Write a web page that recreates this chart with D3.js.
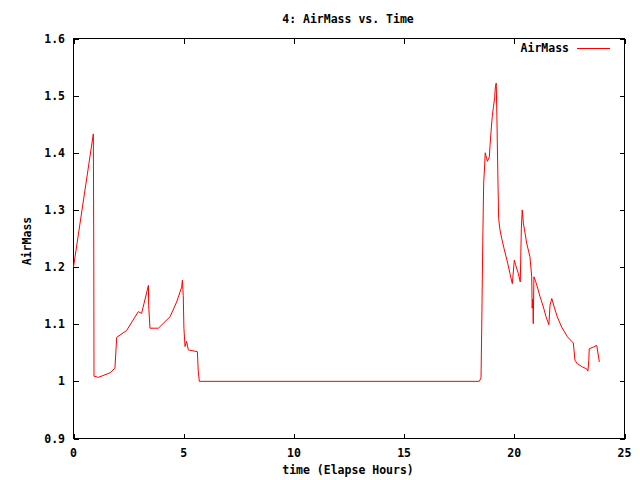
<!DOCTYPE html>
<html><head><meta charset="utf-8">
<script src="https://cdn.jsdelivr.net/npm/d3@7"></script>
<style>body{margin:0;background:#fff}svg{display:block}text{font-family:"DejaVu Sans Mono",monospace;font-size:11.5px;fill:#000}</style>
</head><body><svg id="c" width="640" height="480"></svg>
<script>
const title = "4: AirMass vs. Time";
const xLabel = "time (Elapse Hours)";
const yLabel = "AirMass";
const seriesName = "AirMass";
const xTicks = [0,5,10,15,20,25];
const yTicks = [0.9,1,1.1,1.2,1.3,1.4,1.5,1.6];
const times = [0,0.9,0.92,0.93,1.13,1.66,1.88,1.96,2.41,2.94,3.09,3.4,3.41,3.47,3.85,4.38,4.68,4.91,4.94,4.98,5.01,5.06,5.13,5.21,5.62,5.66,5.71,18.41,18.49,18.52,18.57,18.61,18.66,18.68,18.78,18.87,18.9,18.94,19.0,19.05,19.11,19.14,19.18,19.21,19.26,19.29,19.35,19.43,19.55,19.7,19.8,19.91,20.0,20.06,20.18,20.27,20.32,20.36,20.41,20.49,20.56,20.71,20.79,20.81,20.84,20.86,20.89,20.95,21.04,21.17,21.32,21.44,21.57,21.62,21.7,21.81,21.95,22.15,22.41,22.68,22.75,22.86,23.1,23.28,23.34,23.38,23.4,23.59,23.74,23.86];
const airmass = [1.2,1.433,1.225,1.009,1.007,1.015,1.023,1.077,1.089,1.122,1.119,1.168,1.133,1.093,1.093,1.113,1.139,1.165,1.177,1.15,1.093,1.061,1.07,1.055,1.052,1.018,1.0,1.0,1.006,1.088,1.247,1.347,1.382,1.4,1.385,1.393,1.414,1.435,1.464,1.479,1.497,1.515,1.522,1.464,1.347,1.285,1.265,1.25,1.23,1.207,1.189,1.171,1.212,1.204,1.189,1.174,1.268,1.3,1.277,1.259,1.242,1.218,1.183,1.128,1.144,1.101,1.183,1.177,1.166,1.148,1.13,1.113,1.099,1.133,1.145,1.13,1.113,1.095,1.078,1.067,1.037,1.031,1.025,1.022,1.018,1.037,1.057,1.06,1.063,1.034];

const svg = d3.select("#c");
const L=73.5,R=624.5,T=38.5,B=438.5;
const x = d3.scaleLinear().domain([0,25]).range([L,R]);
const y = d3.scaleLinear().domain([0.9,1.6]).range([B,T]);
const tl = 5;

// ticks (inward, mirrored)
const g = svg.append("g").attr("stroke","#000").attr("stroke-width",1).attr("shape-rendering","crispEdges");
xTicks.forEach(v=>{const px=Math.round(x(v))+0.5;
  g.append("line").attr("x1",px).attr("x2",px).attr("y1",B).attr("y2",B-tl);
  g.append("line").attr("x1",px).attr("x2",px).attr("y1",T).attr("y2",T+tl);});
yTicks.forEach(v=>{const py=Math.round(y(v))+0.5;
  g.append("line").attr("x1",L).attr("x2",L+tl).attr("y1",py).attr("y2",py);
  g.append("line").attr("x1",R).attr("x2",R-tl).attr("y1",py).attr("y2",py);});
g.append("rect").attr("x",L).attr("y",T).attr("width",R-L).attr("height",B-T).attr("fill","none");

// tick labels
xTicks.forEach(v=>svg.append("text").attr("x",x(v)).attr("y",457).attr("text-anchor","middle").attr("font-weight","bold").text(d3.format("d")(v)));
yTicks.forEach(v=>svg.append("text").attr("x",65).attr("y",y(v)+4).attr("text-anchor","end").attr("font-weight","bold").text(v===1?"1":d3.format(".1f")(v)));

// titles
svg.append("text").attr("x",348).attr("y",23).attr("text-anchor","middle").attr("font-weight","bold").text(title);
svg.append("text").attr("x",348).attr("y",474).attr("text-anchor","middle").attr("font-weight","bold").text(xLabel);
svg.append("text").attr("transform","translate(31,241) rotate(-90)").attr("text-anchor","middle").attr("font-weight","bold").text(yLabel);

// line
const data = times.map((t,i)=>[t,airmass[i]]);
svg.append("path").datum(data).attr("fill","none").attr("stroke","#f00").attr("stroke-width",1)
  .attr("d",d3.line().x(d=>x(d[0])).y(d=>y(d[1])));

// legend
svg.append("text").attr("x",569).attr("y",52).attr("text-anchor","end").attr("font-weight","bold").text(seriesName);
svg.append("line").attr("x1",577).attr("x2",610).attr("y1",48.5).attr("y2",48.5).attr("stroke","#ff0000").attr("stroke-width",1).attr("shape-rendering","crispEdges");
</script></body></html>
